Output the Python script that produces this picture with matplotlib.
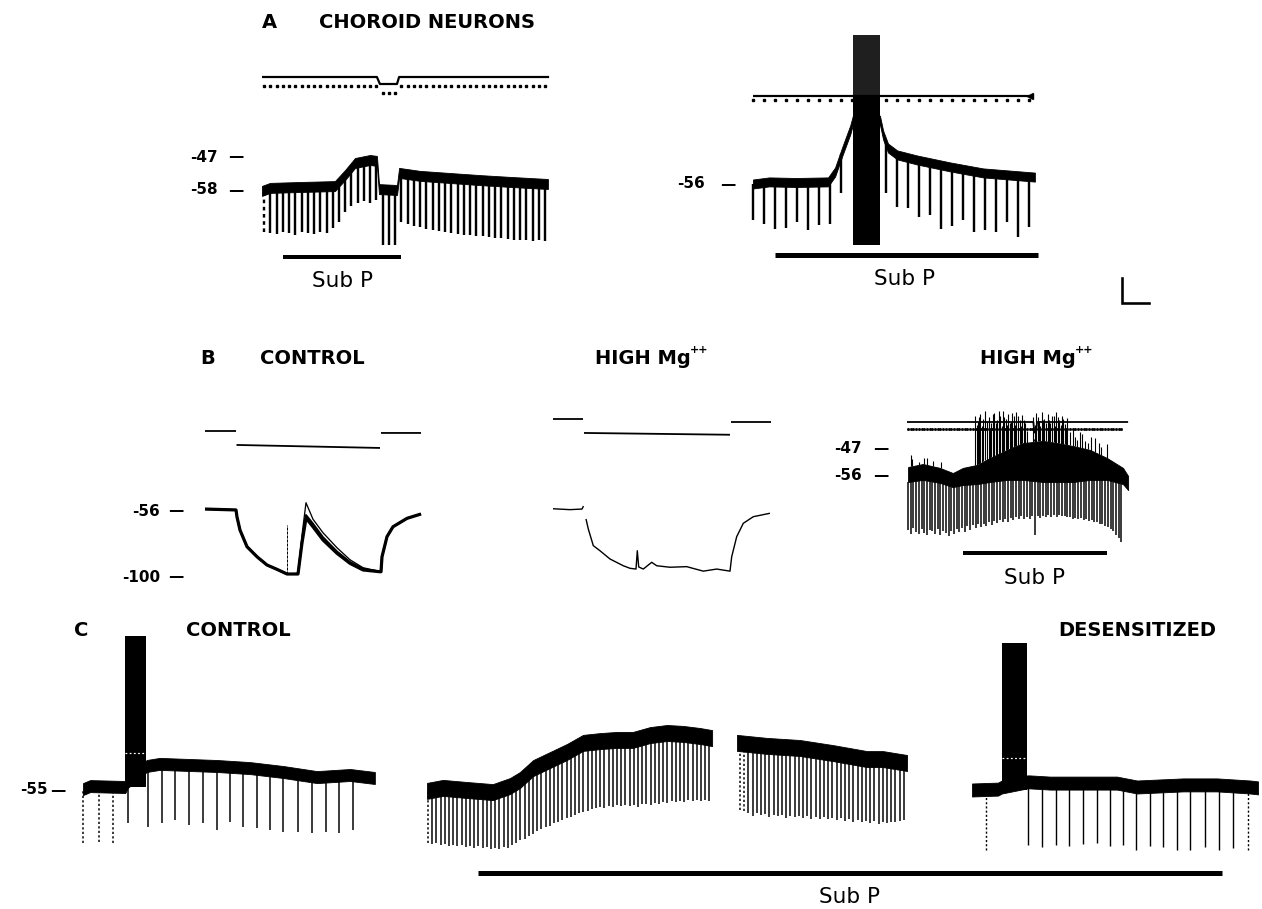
import numpy as np
import matplotlib
matplotlib.use("Agg")
import matplotlib.pyplot as plt

W, H = 1262, 909
PX = 0.72  # points per pixel at dpi 100

# ======================= DATA =======================
# ---- A, left cell: membrane potential (s, mV) ----
a1_t = [0, 2.7, 12.7, 24.3, 27.7, 31.0, 36.0, 38.3, 39.0, 45.0, 45.7, 52.7, 62.7, 72.7, 82.7, 95.3]
a1_v = [-58.3, -57.3, -57.0, -56.7, -53.0, -49.0, -48.0, -48.3, -57.7, -58.0, -52.3, -53.3, -54.0, -54.7, -55.3, -56.0]
a1_pulse_start, a1_pulse_period = 0.67, 2.083
a1_pulse_v = [-72.0, -72.3, -72.7, -72.0, -72.3, -73.0, -72.0, -72.3, -72.7, -72.0,
              -72.3, -70.7, -68.7, -65.3, -63.3, -62.3, -61.7, -62.3, -61.3, -76.3,
              -76.3, -76.3, -68.7, -69.3, -70.0, -70.3, -71.0, -71.3, -71.7, -72.0,
              -72.3, -72.7, -73.0, -73.0, -73.3, -73.3, -73.7, -74.0, -74.0, -74.3,
              -74.7, -74.7, -74.7, -75.0, -74.7, -75.0]
a1_i_t = [0, 38.3, 39.3, 45.0, 45.7, 95.7]
a1_i = [0, 0, -0.2, -0.2, 0, 0]
a1_pulse_i = -0.25
a1_subp = [7.0, 46.3]
a1_ticks = [-47, -58]

# ---- A, right cell ----
a2_t = [0, 3.0, 8.0, 13.9, 15.2, 16.5, 18.0, 18.5, 23.5, 24.1, 25.0, 26.7, 30.4, 36.5, 42.6, 52.2]
a2_v = [-56.0, -55.3, -55.5, -55.3, -52.0, -45.3, -38.0, -34.7, -34.7, -39.7, -44.0, -46.3, -48.0, -50.3, -52.3, -53.7]
a2_burst_t = [18.5, 23.5]
a2_burst_v = [-76.3, -26.3, -6.3]   # trough, top of solid part, spike peaks
a2_pulse_start, a2_pulse_period = 0.0, 2.046
a2_pulse_v = [-68.0, -69.3, -71.0, -70.7, -68.7, -71.3, -69.7, -69.3, -59.0, np.nan,
              np.nan, np.nan, -59.0, -63.7, -64.0, -67.0, -66.3, -71.0, -70.0, -68.0,
              -72.0, -71.3, -72.0, -68.7, -73.7, -70.3]
a2_i_t = [0, 51.3]
a2_i = [0, 0]
a2_pulse_i = -0.12
a2_subp = [4.1, 52.8]
a2_ticks = [-56]
scale_t, scale_v = 5.0, 8.3

# ---- B, control (s, mV) ----
b1_t = [0, 0.31, 0.32, 0.35, 0.42, 0.52, 0.62, 0.72, 0.82, 0.85, 0.93, 0.97, 1.01, 1.08, 1.18,
        1.32, 1.45, 1.58, 1.75, 1.76, 1.77, 1.82, 1.88, 2.02, 2.16]
b1_v1 = [-54.7, -55.3, -60.0, -68.7, -79.8, -86.5, -92.0, -94.9, -98.0, -98.0, -98.0, -77.3, -60.7,
         -66.5, -75.3, -84.2, -90.9, -95.3, -96.5, -96.5, -86.5, -73.1, -66.5, -60.9, -58.0]
b1_v2 = [-54.7, -55.3, -60.0, -68.7, -79.8, -86.5, -92.0, -94.9, -98.0, -98.0, -98.0, -76.0, -58.7,
         -64.5, -73.5, -83.0, -90.0, -94.5, -96.5, -96.5, -86.5, -73.1, -66.5, -60.9, -58.0]
b1_v3 = [-54.7, -55.3, -60.0, -68.7, -79.8, -86.5, -92.0, -94.9, -98.0, -98.0, -97.5, -72.0, -50.5,
         -61.5, -70.5, -80.5, -88.5, -93.8, -96.3, -96.3, -86.5, -73.1, -66.5, -60.9, -58.0]
b1_artifact = [0.82, -65.3, -98.0]
b1_i_t = [0, 0.31, np.nan, 0.315, 1.75, np.nan, 1.76, 2.16]
b1_i = [0, 0, np.nan, -0.93, -1.13, np.nan, -0.13, -0.13]
b1_ticks = [-56, -100]

# ---- B, high Mg++ (hyperpolarizing step) ----
b2_t = [0, 0.17, 0.29, 0.305, np.nan, 0.33, 0.353, 0.403, 0.47, 0.57, 0.703, 0.77, 0.83, 0.843,
        0.857, 0.903, 0.987, 1.037, 1.17, 1.337, 1.503, 1.637, 1.77, 1.787, 1.837, 1.903, 2.003, 2.17]
b2_v = [-54.5, -55.1, -54.7, -52.7, np.nan, -61.3, -68.0, -79.1, -82.5, -88.0, -92.5, -94.2, -94.7,
        -82.5, -93.3, -94.7, -90.2, -92.5, -93.5, -93.1, -96.1, -94.7, -96.1, -86.5, -73.1, -64.2,
        -59.8, -57.5]
b2_i_t = [0, 0.30, np.nan, 0.31, 1.77, np.nan, 1.78, 2.18]
b2_i = [0, 0, np.nan, -0.93, -1.05, np.nan, -0.2, -0.2]

# ---- B, high Mg++ with Sub P (band top and bottom) ----
b3_t = [0.4, 5.9, 12.2, 17.0, 20.7, 25.9, 30.7, 37.0, 43.0, 50.4, 55.6, 61.5, 67.8, 74.1, 80.0, 81.9]
b3_top = [-53.0, -52.0, -53.3, -55.0, -53.3, -52.3, -50.0, -47.3, -45.0, -44.3, -45.0, -46.0,
          -47.3, -50.0, -53.3, -56.0]
b3_bot = [-58.0, -57.3, -58.3, -59.7, -59.0, -58.7, -58.0, -57.3, -57.3, -58.0, -58.0, -58.0,
          -57.3, -57.3, -58.7, -60.7]
b3_pulse_start, b3_pulse_period = 0.4, 1.0
b3_pulse_v = [-74.0, -75.5, -73.2, -74.8, -75.3, -73.6, -74.9, -75.6, -73.9, -74.5,
              -75.2, -73.8, -75.6, -74.3, -75.0, -76.0, -74.2, -75.3, -73.6, -74.8,
              -73.5, -74.6, -72.8, -73.9, -72.5, -73.4, -72.0, -73.1, -71.9, -72.6,
              -71.4, -72.3, -70.9, -71.8, -70.6, -71.5, -70.3, -71.2, -70.0, -70.8,
              -69.6, -70.5, -69.4, -70.2, -69.7, -70.4, -69.3, -75.8, -69.5, -69.9,
              -69.2, -69.8, -68.9, -69.6, -69.1, -69.7, -69.0, -69.5, -69.3, -69.8,
              -69.6, -70.2, -69.9, -70.5, -70.1, -70.8, -70.4, -71.0, -70.7, -71.4,
              -71.2, -71.9, -72.0, -72.6, -73.0, -73.8, -74.5, -75.8, -76.6, -78.0]
b3_spike_t = [1.5, 2.0, 4.5, 6.2, 7.5, 9.8, 12.5,
              25.3, 25.8, 26.2, 26.7, 27.1, 27.7, 28.3, 29.0, 29.6, 30.2, 30.6, 31.1, 31.8, 32.4,
              32.9, 33.3, 33.9, 34.5, 35.0, 35.4, 36.0, 36.6, 37.0, 37.5, 38.0, 38.4, 39.0, 39.6,
              40.0, 40.5, 41.2, 41.8, 42.2, 42.7, 43.2, 43.6, 44.3, 46.8, 47.3, 47.9, 48.4, 48.8,
              49.4, 50.0, 50.4, 50.9, 51.5, 52.1, 52.6, 53.0, 53.6, 54.3, 54.7, 55.2, 55.8, 56.4,
              56.9, 57.3, 57.9, 58.5, 59.0, 59.4,
              60.5, 61.5, 62.2, 63.0, 64.0, 64.8, 66.0, 67.0, 68.3, 69.5, 71.0, 72.0, 74.0]
b3_spike_v = [-49.0, -50.5, -51.5, -50.0, -50.0, -51.0, -51.5,
              -36.0, -39.0, -38.0, -36.5, -35.5, -39.5, -37.0, -34.5, -38.0, -36.5, -40.0, -38.5,
              -35.5, -35.0, -38.5, -37.5, -34.5, -36.0, -39.5, -34.5, -36.5, -37.0, -39.0, -35.5,
              -38.5, -38.0, -35.0, -36.0, -39.0, -34.7, -36.0, -37.2, -39.5, -35.8, -37.5, -38.2,
              -41.0, -36.4, -39.0, -35.0, -36.5, -37.8, -39.5, -34.6, -37.5, -36.9, -38.5, -35.3,
              -37.5, -38.4, -36.0, -36.1, -39.5, -34.8, -36.5, -37.5, -39.0, -35.9, -37.0, -38.8,
              -40.0, -36.6,
              -41.5, -40.5, -43.0, -44.0, -41.5, -42.0, -44.5, -45.0, -43.0, -43.5, -45.0, -46.5,
              -45.5]
b3_i_t = [0, 46.8, 47.2, 47.8, 48.2, 81.9]
b3_i = [0, 0, -0.3, -0.3, 0, 0]
b3_pulse_i = -0.2
b3_subp = [20.7, 74.1]
b3_ticks = [-47, -56]

# ---- C, control ----
c1_t = [0, 1.1, 6.5, 6.9, 9.8, 11.8, 20.6, 25.7, 30.8, 36.0, 41.1, 44.9]
c1_v = [-54.7, -53.7, -54.0, -52.3, -47.0, -46.3, -47.0, -47.7, -49.0, -50.7, -50.0, -51.0]
c1_burst_t = [6.46, 9.69]
c1_burst_v = [-54.0, -3.7]
c1_burst_mark = -42.7
c1_pulse_t = [0, 2.46, 4.62, 6.92, 10.0, 12.15, 14.15, 16.3, 18.46, 20.6, 22.6, 24.6, 26.8,
              28.8, 30.8, 33.1, 35.2, 37.4, 39.4, 41.5]
c1_pulse_v = [-72.7, -72.3, -72.7, -66.0, -67.3, -66.0, -65.0, -66.7, -66.0, -68.3, -65.7, -67.3,
              -67.7, -68.3, -69.0, -69.0, -69.3, -69.0, -69.3, -68.3]
c_ticks = [-55]

# ---- C, Sub P application ----
c2a_t = [0, 5.9, 14.8, 24.4, 30.7, 34.4, 39.3, 45.6, 51.9, 57.8, 64.1, 70.4, 76.3, 82.6, 88.9,
         94.8, 101.1, 105.6]
c2a_v = [-55.3, -54.3, -55.0, -55.7, -53.7, -51.7, -47.7, -45.0, -42.3, -39.3, -38.7, -38.3,
         -38.3, -36.7, -36.0, -36.3, -37.0, -37.7]
c2b_t = [114.8, 125.9, 138.1, 150.4, 163.0, 168.9, 177.8]
c2b_v = [-39.3, -40.3, -41.0, -42.7, -44.7, -44.7, -46.0]
c2_pulse_period = 1.556
c2a_pulse_start = 0.37
c2a_pulse_v = [-72.7, -73.0, -72.5, -73.3, -73.0, -73.6, -73.2, -73.8, -73.4, -74.0,
               -73.5, -74.2, -73.8, -74.3, -74.0, -74.6, -74.2, -74.5, -73.9, -74.3,
               -73.4, -72.6, -71.8, -71.2, -70.3, -69.5, -68.8, -68.0, -67.4, -66.9,
               -66.1, -65.6, -65.0, -64.4, -63.9, -63.2, -62.8, -62.3, -61.9, -61.4,
               -61.0, -60.6, -60.9, -60.3, -60.6, -60.0, -60.4, -59.9, -60.3, -60.1,
               -60.5, -59.8, -59.5, -59.9, -59.3, -59.6, -59.0, -59.4, -58.8, -59.1,
               -58.6, -58.9, -58.4, -58.8, -58.3, -58.6, -58.2, -58.5]
c2b_pulse_start = 115.9
c2b_pulse_v = [-61.5, -62.0, -62.7, -63.5, -62.8, -63.4, -63.0, -64.0, -63.3, -63.8,
               -63.2, -64.2, -63.6, -64.0, -63.5, -64.4, -63.8, -64.5, -63.9, -64.6,
               -64.0, -64.8, -64.3, -65.0, -64.4, -65.2, -64.7, -65.5, -64.9, -65.8,
               -65.2, -66.0, -65.4, -66.2, -65.7, -66.0, -65.5, -65.8, -65.2, -65.0]
c2_subp = [18.9, 294.4]

# ---- C, desensitized ----
c3_t = [0, 4.0, 4.6, 8.5, 8.9, 12.0, 17.1, 22.3, 25.4, 32.5, 37.7, 42.8, 44.0]
c3_v = [-55.0, -54.7, -54.0, -52.3, -52.3, -52.7, -52.7, -52.7, -54.0, -53.3, -53.3, -54.0, -54.3]
c3_burst_t = [4.6, 8.46]
c3_burst_v = [-55.0, -6.0]
c3_burst_mark = -44.3
c3_pulse_t = [2.15, 8.6, 10.8, 12.9, 14.9, 17.1, 19.2, 21.2, 23.2, 25.2, 27.4, 29.4, 31.5, 33.5,
              35.8, 38.0, 40.2, 42.5]
c3_pulse_v = [-75.0, -73.3, -74.0, -73.3, -73.7, -73.0, -72.7, -73.7, -73.3, -75.0, -73.7, -74.0,
              -75.0, -75.0, -74.0, -75.0, -74.3, -75.0]

# ======================= DRAWING =======================
plt.rcParams['font.family'] = ['DejaVu Sans']
fig = plt.figure(figsize=(W / 100, H / 100), dpi=100)
fig.patch.set_facecolor('white')


class Panel:
    """An invisible axes whose data units are placed at a given pixel scale."""
    def __init__(self, box, x_ref, t_ref, sx, y_ref, v_ref, sy):
        x0, y0, x1, y1 = box
        self.ax = fig.add_axes([x0 / W, 1 - y1 / H, (x1 - x0) / W, (y1 - y0) / H])
        self.ax.set_axis_off()
        self.ax.patch.set_visible(False)
        self.x_ref, self.t_ref, self.sx, self.sy = x_ref, t_ref, sx, sy
        self.ax.set_xlim(t_ref + (x0 - x_ref) / sx, t_ref + (x1 - x_ref) / sx)
        self.ax.set_ylim(v_ref - (y1 - y_ref) / sy, v_ref - (y0 - y_ref) / sy)

    def tx(self, x_px):
        return self.t_ref + (x_px - self.x_ref) / self.sx

    def band(self, t, v, thick_px, color='k'):
        h = thick_px / 2.0 / self.sy
        v = np.asarray(v, float)
        self.ax.fill_between(t, v - h, v + h, color=color, lw=0.6, edgecolor=color,
                             clip_on=False)


def trace(ax, t, v, lw_px, color='k'):
    ax.plot(t, v, color=color, lw=lw_px * PX, solid_capstyle='butt',
            solid_joinstyle='round', clip_on=False)


def pulses(ax, times, bottoms, tr_t, tr_v, lw_px, dotted=()):
    times = np.asarray(times, float)
    bottoms = np.asarray(bottoms, float)
    tops = np.interp(times, tr_t, tr_v)
    ok = ~np.isnan(bottoms)
    dot = np.zeros(len(times), bool)
    dot[list(dotted)] = True
    s = ok & ~dot
    ax.vlines(times[s], bottoms[s], tops[s], colors='k', lw=lw_px * PX, clip_on=False)
    d = ok & dot
    if d.any():
        ax.vlines(times[d], bottoms[d], tops[d], colors='k', lw=lw_px * PX,
                  linestyles=(0, (1.5, 1.5)), clip_on=False)


def bar(ax, span, v, lw_px):
    ax.plot(span, [v, v], color='k', lw=lw_px * PX, solid_capstyle='butt', clip_on=False)


def ftext(x, y, s, size, weight='normal', ha='center'):
    fig.text(x / W, 1 - y / H, s, fontsize=size, fontweight=weight, ha=ha, va='center')


def ticks(panel, values, x_num_right, x_dash):
    for v in values:
        panel.ax.text(panel.tx(x_num_right), v, "-%d" % abs(v), fontsize=11, fontweight='bold',
                      ha='right', va='center', clip_on=False)
        panel.ax.text(panel.tx(x_dash), v, "\u2014", fontsize=11, fontweight='bold',
                      ha='center', va='center', clip_on=False)


# ---------- Panel A, left ----------
pA1 = Panel((250, 140, 560, 255), 262, 0, 3.0, 190, -58, 3.0)
pA1i = Panel((250, 65, 560, 100), 262, 0, 3.0, 77, 0, 35.0)
a1_pt = a1_pulse_start + a1_pulse_period * np.arange(len(a1_pulse_v))
pulses(pA1.ax, a1_pt, a1_pulse_v, a1_t, a1_v, 2.4, dotted=(0,))
pA1.band(a1_t, a1_v, 10)
trace(pA1i.ax, a1_i_t, a1_i, 2.2)
pA1i.ax.plot(a1_pt, np.interp(a1_pt, a1_i_t, a1_i) + a1_pulse_i, ls='none', marker='s',
             ms=1.6, color='k', clip_on=False)
bar(pA1.ax, a1_subp, -80.3, 4)
ticks(pA1, a1_ticks, 218, 236)

# ---------- Panel A, right ----------
pA2 = Panel((745, 30, 1045, 255), 753, 0, 5.4, 184, -56, 3.0)
pA2i = Panel((745, 85, 1045, 110), 753, 0, 5.4, 96, 0, 35.0)
a2_pt = a2_pulse_start + a2_pulse_period * np.arange(len(a2_pulse_v))
pulses(pA2.ax, a2_pt, a2_pulse_v, a2_t, a2_v, 2.4)
pA2.band(a2_t, a2_v, 9)
trace(pA2i.ax, a2_i_t, a2_i, 2.2)
pA2i.ax.plot(a2_pt, np.interp(a2_pt, a2_i_t, a2_i) + a2_pulse_i, ls='none', marker='s',
             ms=1.6, color='k', clip_on=False)
pA2i.ax.plot([a2_i_t[-1]], [a2_i[-1]], marker='<', ms=5, color='k', clip_on=False)
pA2.ax.fill_between(a2_burst_t, a2_burst_v[0], a2_burst_v[1], color='k', lw=0)
pA2.ax.fill_between(a2_burst_t, a2_burst_v[1], a2_burst_v[2], color='0.12', lw=0)
bar(pA2.ax, a2_subp, -79.7, 5)
ticks(pA2, a2_ticks, 705, 728)
# calibration bar
x_sb, v_sb = pA2.tx(1122), -95.7
pA2.ax.plot([x_sb, x_sb, x_sb + scale_t], [v_sb + scale_v, v_sb, v_sb], color='k',
            lw=2.6 * PX, clip_on=False, solid_joinstyle='miter')

# ---------- Panel B, control ----------
pB1 = Panel((200, 495, 425, 585), 205, 0, 100.0, 511, -56, 1.5)
pB1i = Panel((200, 425, 425, 455), 205, 0, 100.0, 431, 0, 15.0)
trace(pB1.ax, b1_t, b1_v1, 3.2)
trace(pB1.ax, b1_t, b1_v2, 2.0)
trace(pB1.ax, b1_t, b1_v3, 1.3)
pB1.ax.vlines(b1_artifact[0], b1_artifact[2], b1_artifact[1], colors='k', lw=1.0 * PX,
              linestyles=(0, (3, 1)))
trace(pB1i.ax, b1_i_t, b1_i, 1.8)
ticks(pB1, b1_ticks, 160, 176)

# ---------- Panel B, high Mg (step) ----------
pB2 = Panel((548, 495, 775, 585), 553, 0, 100.0, 511, -56, 1.5)
pB2i = Panel((548, 410, 775, 440), 553, 0, 100.0, 419, 0, 15.0)
trace(pB2.ax, b2_t, b2_v, 1.4)
trace(pB2i.ax, b2_i_t, b2_i, 1.8)

# ---------- Panel B, high Mg + Sub P ----------
pB3 = Panel((900, 400, 1135, 545), 907, 0, 2.7, 476, -56, 3.0)
pB3i = Panel((900, 410, 1135, 440), 907, 0, 2.7, 422, 0, 35.0)
b3_pt = b3_pulse_start + b3_pulse_period * np.arange(len(b3_pulse_v))
pulses(pB3.ax, b3_pt, b3_pulse_v, b3_t, b3_bot, 1.5)
spk_base = np.interp(b3_spike_t, b3_t, b3_top)
pB3.ax.vlines(b3_spike_t, spk_base, b3_spike_v, colors='k', lw=1.1 * PX, clip_on=False)
pB3.ax.fill_between(b3_t, b3_bot, b3_top, color='k', lw=0.6, edgecolor='k')
trace(pB3i.ax, b3_i_t, b3_i, 1.8)
pB3i.ax.plot(b3_pt, np.interp(b3_pt, b3_i_t, b3_i) + b3_pulse_i, ls='none', marker='s',
             ms=1.0, color='k', clip_on=False)
bar(pB3.ax, b3_subp, -81.7, 4)
ticks(pB3, b3_ticks, 862, 881)

# ---------- Panel C ----------
pC1 = Panel((75, 630, 380, 855), 83, 0, 6.5, 790, -55, 3.0)
pC2 = Panel((420, 700, 915, 855), 427, 0, 2.7, 790, -55, 3.0)
pC3 = Panel((965, 630, 1262, 855), 972, 0, 6.5, 790, -55, 3.0)

pulses(pC1.ax, c1_pulse_t, c1_pulse_v, c1_t, c1_v, 1.5, dotted=(0, 1, 2))
pC1.band(c1_t, c1_v, 12)
pC1.ax.fill_between(c1_burst_t, c1_burst_v[0], c1_burst_v[1], color='k', lw=0)
pC1.ax.plot(c1_burst_t, [c1_burst_mark] * 2, color='white', lw=1.2 * PX, ls=(0, (1.5, 2)))
ticks(pC1, c_ticks, 48, 58)

c2a_pt = c2a_pulse_start + c2_pulse_period * np.arange(len(c2a_pulse_v))
c2b_pt = c2b_pulse_start + c2_pulse_period * np.arange(len(c2b_pulse_v))
pulses(pC2.ax, c2a_pt, c2a_pulse_v, c2a_t, c2a_v, 1.5, dotted=(0,))
pulses(pC2.ax, c2b_pt, c2b_pulse_v, c2b_t, c2b_v, 1.5, dotted=(0, 1))
pC2.band(c2a_t, c2a_v, 16)
pC2.band(c2b_t, c2b_v, 16)
bar(pC2.ax, c2_subp, -82.7, 5)

pulses(pC3.ax, c3_pulse_t, c3_pulse_v, c3_t, c3_v, 1.4, dotted=(0, len(c3_pulse_t) - 1))
pC3.band(c3_t, c3_v, 13)
pC3.ax.fill_between(c3_burst_t, c3_burst_v[0], c3_burst_v[1], color='k', lw=0)
pC3.ax.plot(c3_burst_t, [c3_burst_mark] * 2, color='white', lw=1.2 * PX, ls=(0, (1.5, 2)))

# ---------- Text ----------
ftext(269, 22, "A", 14, 'bold')
ftext(427, 22, "CHOROID NEURONS", 14, 'bold')
ftext(342, 281, "Sub P", 15.5)
ftext(904, 279, "Sub P", 15.5)

ftext(208, 358, "B", 14, 'bold')
ftext(312, 358, "CONTROL", 14, 'bold')
ftext(643, 358, "HIGH Mg", 14, 'bold')
ftext(699, 350, "++", 8, 'bold')
ftext(1028, 358, "HIGH Mg", 14, 'bold')
ftext(1084, 350, "++", 8, 'bold')
ftext(1035, 578, "Sub P", 15.5)

ftext(81, 631, "C", 14, 'bold')
ftext(238, 631, "CONTROL", 14, 'bold')
ftext(1137, 631, "DESENSITIZED", 14, 'bold')
ftext(850, 897, "Sub P", 15.5)

fig.savefig("out.png", dpi=100, facecolor='white')
